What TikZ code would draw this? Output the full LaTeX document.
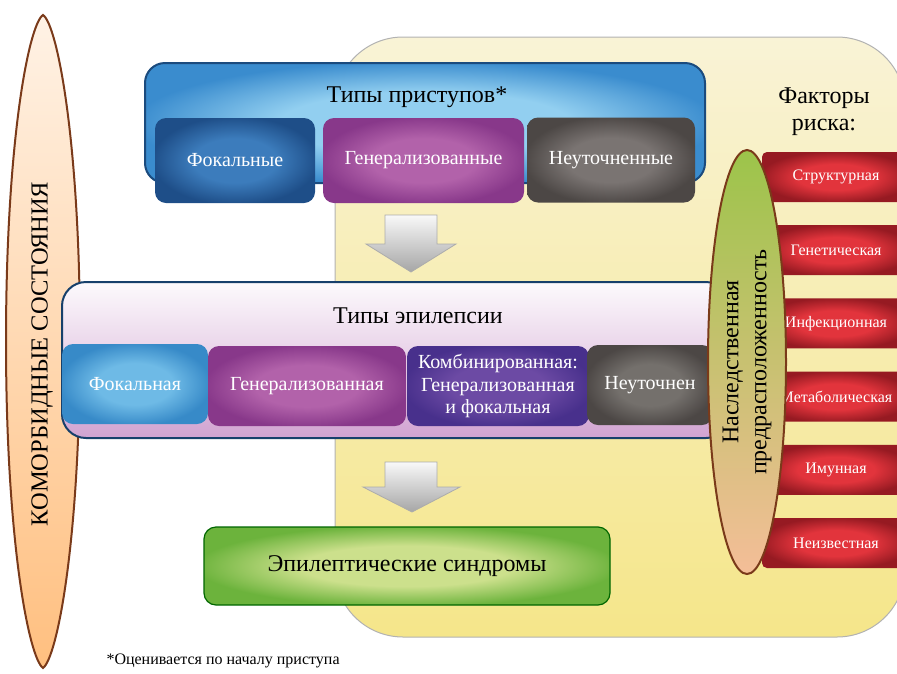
\documentclass[tikz,border=0pt]{standalone}
\usepackage{fontspec}
\setmainfont{Liberation Serif}
\usetikzlibrary{positioning,shapes.geometric}

\definecolor{bgtop}{HTML}{F9F3D6}
\definecolor{bgbot}{HTML}{F5E68A}
\definecolor{frameblue}{HTML}{1B4B7E}
\definecolor{brownline}{HTML}{7A3A1A}
\definecolor{glowin}{HTML}{FFFFFF}
\definecolor{glowout}{HTML}{000000}
\pgfdeclareradialshading[glowin,glowout]{glow}{\pgfpointorigin}{color(0bp)=(glowin); color(13bp)=(glowin); color(26bp)=(glowout); color(50bp)=(glowout)}

\begin{document}
\begin{tikzpicture}[x=1pt,y=-1pt,
    glowfill/.style 2 args={/utils/exec={\definecolor{glowin}{HTML}{#1}\definecolor{glowout}{HTML}{#2}}, shading=glow},
    typebox/.style={rounded corners=11pt, text=white, font=\fontsize{20}{23}\selectfont,
        minimum height=85pt, inner sep=2pt},
    epibox/.style={typebox, minimum height=80pt, align=center},
    riskbar/.style={rounded corners=5pt, text=white, font=\fontsize{16}{18}\selectfont,
        minimum width=148pt, minimum height=50pt, glowfill={E2343C}{961A22}},
    title/.style={font=\fontsize{24}{28}\selectfont},
    grayarrow/.style={draw=gray!65, line width=0.8pt, top color=white!95!gray, bottom color=gray!70}]
    \useasboundingbox (0,0) rectangle (897,673);

    % yellow background
    \path[draw=gray!60, line width=1pt, top color=bgtop, bottom color=bgbot, rounded corners=68pt]
        (335,37) rectangle (905,637);

    % comorbid states
    \path[draw=brownline, line width=2pt, top color=orange!10!white, bottom color=orange!50!white]
        (43,15) .. controls (57,24) and (80,140) .. (80,341)
        .. controls (80,542) and (57,658) .. (43,668)
        .. controls (29,658) and (6,542) .. (6,341)
        .. controls (6,140) and (29,24) .. (43,15) -- cycle;
    \node[rotate=90, font=\fontsize{24.5}{28}\selectfont] (comorb) at (42,354) {КОМОРБИДНЫЕ СОСТОЯНИЯ};

    % seizure types
    \node[draw=frameblue, line width=2pt, rounded corners=20pt, glowfill={92CFF0}{3A8CCE},
        minimum width=560pt, minimum height=120pt] (seizframe) at (425,123) {};
    \node[title] (seiztitle) at (417,97) {Типы приступов*};
    \node[typebox, glowfill={3C7CBC}{1E4E88}, minimum width=160pt] (sfocal) at (235,160.5) {Фокальные};
    \node[typebox, glowfill={B262AA}{88388A}, minimum width=201pt] (sgen) at (423.5,160.5) {Генерализованные};
    \node[typebox, glowfill={7A7472}{4C4745}, minimum width=168pt] (sunk) at (611,160) {Неуточненные};

    \path[grayarrow] (385,215) -- (437,215) -- (437,244) -- (456,244) -- (411,272) -- (366,244) -- (385,244) -- cycle;

    % epilepsy types
    \node[draw=frameblue!85!black, line width=2pt, rounded corners=24pt, top color=violet!2!white,
        bottom color=violet!36!white, minimum width=668pt, minimum height=156pt] (epiframe) at (396,360) {};
    \node[title] (epititle) at (418,316) {Типы эпилепсии};
    \node[epibox, glowfill={6EBAE6}{378AC8}, minimum width=146pt] (efocal) at (135,384) {Фокальная};
    \node[epibox, glowfill={B262AA}{88388A}, minimum width=198pt] (egen) at (307,386) {Генерализованная};
    \node[epibox, glowfill={6C4AA4}{48308C}, minimum width=182pt,
        font=\fontsize{20}{22.5}\selectfont] (ecomb) at (498,386) {Комбинированная:\\Генерализованная\\и фокальная};
    \node[epibox, glowfill={74706C}{4C4745}, minimum width=126pt] (eunk) at (650,385) {Неуточнен};

    \path[grayarrow] (385,462) -- (437,462) -- (437,487) -- (460,487) -- (412,512) -- (363,487) -- (385,487) -- cycle;

    % syndromes
    \node[draw=green!40!black, line width=1.2pt, rounded corners=12pt, glowfill={CCE08C}{6CB33C},
        minimum width=406pt, minimum height=78pt,
        font=\fontsize{24}{28}\selectfont] (syndr) at (407,566) {Эпилептические синдромы};

    % risk factors
    \node[align=center, font=\fontsize{24}{27}\selectfont] (risktitle) at (824,112) {Факторы\\риска:};
    \foreach \lbl [count=\i from 0] in {Структурная, Генетическая, Инфекционная, Метаболическая, Имунная, Неизвестная} {
        \node[riskbar] (risk\i) at (836,177+73.2*\i) {\lbl};
    }
    \definecolor{heredtop}{HTML}{9CC44A}
    \definecolor{heredmid}{HTML}{E6C868}
    \definecolor{heredbot}{HTML}{F4BE98}
    \node[ellipse, draw=brownline, line width=2pt, top color=heredtop, middle color=heredmid,
        bottom color=heredbot, minimum width=78pt, minimum height=424pt] (hered) at (747,362) {};
    \node[rotate=90, align=center, font=\fontsize{24}{28}\selectfont] (heredtext) at (hered.center) {Наследственная\\предрасположенность};

    \node[anchor=west, font=\fontsize{16}{18}\selectfont] (footnote) at (103,661) {*Оценивается по началу приступа};
\end{tikzpicture}
\end{document}
